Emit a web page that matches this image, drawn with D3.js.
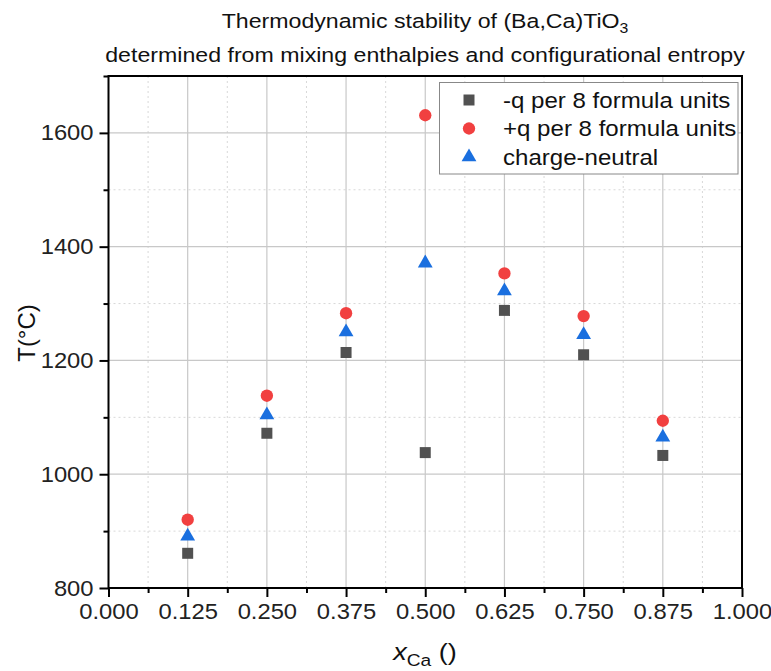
<!DOCTYPE html>
<html><head><meta charset="utf-8">
<script src="https://cdn.jsdelivr.net/npm/d3@7"></script>
<style>body{margin:0;background:#fff}svg{display:block}text{font-family:"Liberation Sans",Arial,sans-serif}</style>
</head><body><svg id="c" width="771" height="671"></svg>
<script>
const xCa = [0.125, 0.25, 0.375, 0.5, 0.625, 0.75, 0.875];
const negQ = [861, 1072, 1214, 1038, 1288, 1210, 1033];
const posQ = [920, 1138, 1283, 1631, 1353, 1278, 1094];
const neutral = [891, 1104, 1250, 1371, 1322, 1245, 1065];
const seriesNames = ["-q per 8 formula units", "+q per 8 formula units", "charge-neutral"];
const seriesColors = ["#515151", "#F14040", "#1A6FDF"];
const xTicks = [0, 0.125, 0.25, 0.375, 0.5, 0.625, 0.75, 0.875, 1.0];
const yTicks = [800, 1000, 1200, 1400, 1600];

const SX = 1.13; // horizontal stretch of the reference's glyphs
const TSX = 1.08;
const svg = d3.select("#c");
const L = 108.5, R = 742, T = 76, B = 588;
const x = d3.scaleLinear().domain([0, 1]).range([L, R]);
const y = d3.scaleLinear().domain([800, 1700]).range([B, T]);

// grid
const g = svg.append("g");
const xMinor = xTicks.slice(0, -1).map((d, i) => (d + xTicks[i + 1]) / 2);
const yMinor = [900, 1100, 1300, 1500, 1700];
g.selectAll(".gxm").data(xMinor).join("line").attr("x1", d => x(d)).attr("x2", d => x(d)).attr("y1", T).attr("y2", B)
  .attr("stroke", "#d8d8d8").attr("stroke-width", 1).attr("stroke-dasharray", "2,3");
g.selectAll(".gym").data(yMinor).join("line").attr("y1", d => y(d)).attr("y2", d => y(d)).attr("x1", L).attr("x2", R)
  .attr("stroke", "#d8d8d8").attr("stroke-width", 1).attr("stroke-dasharray", "2,3");
g.selectAll(".gx").data(xTicks.slice(1, -1)).join("line").attr("x1", d => x(d)).attr("x2", d => x(d)).attr("y1", T).attr("y2", B)
  .attr("stroke", "#c8c8c8").attr("stroke-width", 1.2);
g.selectAll(".gy").data(yTicks.slice(1)).join("line").attr("y1", d => y(d)).attr("y2", d => y(d)).attr("x1", L).attr("x2", R)
  .attr("stroke", "#c8c8c8").attr("stroke-width", 1.2);

// axes
const xAxis = d3.axisBottom(x).tickValues(xTicks).tickFormat(d3.format(".3f")).tickSize(9).tickPadding(6);
const xAxisMinor = d3.axisBottom(x).tickValues(xMinor).tickFormat("").tickSize(5);
const yAxis = d3.axisLeft(y).tickValues(yTicks).tickFormat(d3.format("d")).tickSize(9).tickPadding(6);
const yAxisMinor = d3.axisLeft(y).tickValues(yMinor).tickFormat("").tickSize(5);
function style(sel) {
  sel.select(".domain").remove();
  sel.selectAll("line").attr("stroke", "#000").attr("stroke-width", 2);
  sel.selectAll("text").attr("fill", "#222").style("font-size", "22px");
}
svg.append("g").attr("transform", `translate(0,${B})`).call(xAxis).call(style)
  .selectAll("text").attr("transform", `scale(${TSX},1)`);
svg.append("g").attr("transform", `translate(0,${B})`).call(xAxisMinor).call(style);
svg.append("g").attr("transform", `translate(${L},0)`).call(yAxis).call(style)
  .selectAll("text").attr("x", -15 / TSX).attr("transform", `scale(${TSX},1)`);
svg.append("g").attr("transform", `translate(${L},0)`).call(yAxisMinor).call(style);

// frame
svg.append("rect").attr("x", L).attr("y", T).attr("width", R - L).attr("height", B - T)
  .attr("fill", "none").attr("stroke", "#000").attr("stroke-width", 2);

// data
const symbols = [d3.symbolSquare, d3.symbolCircle, d3.symbolTriangle];
const sizes = [121, 120, 95];
const series = [negQ, posQ, neutral];
series.forEach((vals, i) => {
  svg.append("g").selectAll("path").data(vals).join("path")
    .attr("d", d3.symbol(symbols[i], sizes[i])())
    .attr("transform", (d, j) => `translate(${x(xCa[j])},${y(d)})`)
    .attr("fill", seriesColors[i]);
});

// stretched text helper
function stext(px, py, size, anchor) {
  return svg.append("g").attr("transform", `translate(${px},${py}) scale(${SX},1)`)
    .append("text").attr("text-anchor", anchor).style("font-size", size + "px").attr("fill", "#111");
}

// legend
svg.append("rect").attr("x", 439.5).attr("y", 82.5).attr("width", 298.5).attr("height", 91.5)
  .attr("fill", "#fff").attr("stroke", "#888").attr("stroke-width", 1);
seriesNames.forEach((n, i) => {
  const yy = 100 + i * 28.5;
  svg.append("path").attr("d", d3.symbol(symbols[i], sizes[i])()).attr("transform", `translate(469,${yy})`).attr("fill", seriesColors[i]);
  stext(503, yy + 7.5, 21.3, "start").text(n);
});

// titles
const t1 = stext(425, 28, 20.5, "middle");
t1.append("tspan").text("Thermodynamic stability of (Ba,Ca)TiO");
t1.append("tspan").attr("dy", 5).style("font-size", "14px").text("3");
stext(425, 62, 20.5, "middle").text("determined from mixing enthalpies and configurational entropy");

// axis titles
const xt = stext(425, 660, 24, "middle");
xt.append("tspan").style("font-style", "italic").text("x");
xt.append("tspan").attr("dy", 6).style("font-size", "17px").text("Ca");
xt.append("tspan").attr("dy", -6).text(" ()");
svg.append("text").attr("transform", "translate(35,333) rotate(-90)").attr("text-anchor", "middle").style("font-size", "24px").attr("fill", "#111")
  .text("T(°C)");
</script></body></html>
